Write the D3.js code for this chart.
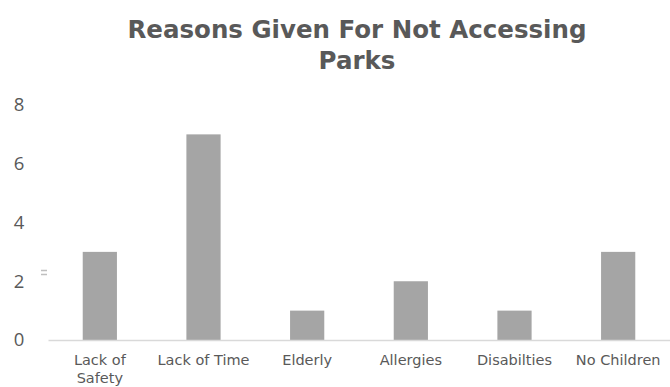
<!DOCTYPE html>
<html>
<head>
<meta charset="utf-8">
<script src="https://cdn.jsdelivr.net/npm/d3@7"></script>
<style>
  html, body { margin: 0; padding: 0; background: #fff; }
  svg { display: block; }
</style>
</head>
<body>
<svg id="chart" width="670" height="387"></svg>
<script>
// Reasons survey respondents gave for not visiting parks
const categories = ["Lack of Safety", "Lack of Time", "Elderly", "Allergies", "Disabilties", "No Children"];
const counts = [3, 7, 1, 2, 1, 3];
const yTicks = [0, 2, 4, 6, 8];
const titleLines = ["Reasons Given For Not Accessing", "Parks"];

const svg = d3.select("#chart");
const W = 670, H = 387;
const margin = { top: 105, right: 0, bottom: 47, left: 48 };

const x = d3.scaleBand()
  .domain(categories)
  .range([margin.left, W - margin.right])
  .paddingInner(0.67)
  .paddingOuter(0.335);

const y = d3.scaleLinear()
  .domain([0, 8])
  .range([H - margin.bottom, margin.top]);

// Title
svg.append("g")
  .selectAll("text")
  .data(titleLines)
  .join("text")
  .attr("x", 357)
  .attr("y", (d, i) => 38 + i * 31)
  .attr("text-anchor", "middle")
  .attr("font-family", "DejaVu Sans, sans-serif")
  .attr("font-weight", "bold")
  .attr("font-size", 24.5)
  .attr("fill", "#595959")
  .text(d => d);

// Value axis labels
const yAxis = d3.axisLeft(y).tickValues(yTicks).tickSize(0).tickPadding(0);
const gy = svg.append("g")
  .attr("transform", "translate(19,0)")
  .call(yAxis);
gy.select(".domain").remove();
gy.selectAll("text")
  .attr("font-family", "Open Sans, sans-serif")
  .attr("font-size", 18.5)
  .attr("fill", "#595959")
  .attr("text-anchor", "middle");

// Bars
svg.append("g")
  .selectAll("rect")
  .data(categories.map((c, i) => ({ c, v: counts[i] })))
  .join("rect")
  .attr("x", d => x(d.c))
  .attr("y", d => y(d.v))
  .attr("width", x.bandwidth())
  .attr("height", d => y(0) - y(d.v))
  .attr("fill", "#a5a5a5");

// Category axis
const xAxis = d3.axisBottom(x).tickSize(0).tickPadding(0);
const gx = svg.append("g")
  .attr("transform", `translate(0,${y(0)})`)
  .call(xAxis);
gx.select(".domain")
  .attr("stroke", "#d9d9d9")
  .attr("stroke-width", 1.5);
gx.selectAll(".tick text").remove();
gx.selectAll(".tick").each(function(d) {
  const g = d3.select(this);
  const words = d === "Lack of Safety" ? ["Lack of", "Safety"] : [d];
  g.selectAll("text.lbl")
    .data(words)
    .join("text")
    .attr("class", "lbl")
    .attr("y", (w, i) => 25 + i * 18)
    .attr("text-anchor", "middle")
    .attr("font-family", "DejaVu Sans, sans-serif")
    .attr("font-size", 14.5)
    .attr("fill", "#595959")
    .text(w => w);
});

// Small legend marker beside the axis
svg.append("g")
  .selectAll("line")
  .data([0, 4])
  .join("line")
  .attr("x1", 41).attr("x2", 47)
  .attr("y1", d => 270.5 + d).attr("y2", d => 270.5 + d)
  .attr("stroke", "#bfbfbf")
  .attr("stroke-width", 1.5);
</script>
</body>
</html>
